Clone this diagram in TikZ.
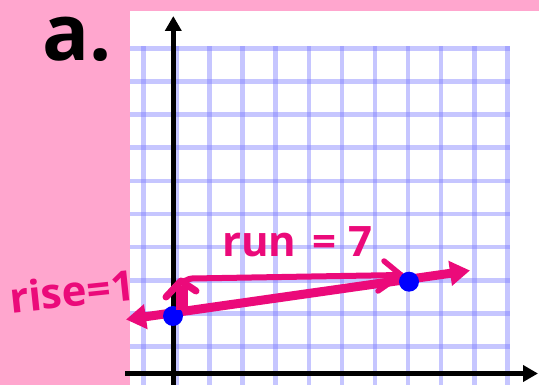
\documentclass[tikz,border=0pt]{standalone}
\usepackage{fontspec}
\setmainfont{Open Sans}
\usetikzlibrary{arrows.meta}
\definecolor{bgpink}{RGB}{255,166,206}
\definecolor{mag}{RGB}{235,10,122}
\definecolor{gridblue}{RGB}{120,120,255}
\begin{document}
\begin{tikzpicture}[x=1pt,y=-1pt,
  gridline/.style={gridblue, opacity=0.42, line width=4.5pt},
  axisline/.style={black, line width=5pt, -{Triangle[length=15pt,width=16pt]}},
  pinkarrow/.style={mag, line width=9pt, {Triangle[length=20pt,width=24pt]}-{Triangle[length=20pt,width=24pt]}},
  riseshaft/.style={mag, line width=12pt},
  chevron/.style={mag, line width=7pt, line cap=round, line join=round},
  runchev/.style={mag, line width=5.5pt, line cap=round, line join=round},
  runline/.style={mag, line width=6pt, line cap=round},
  dot/.style={circle, fill=blue, inner sep=0pt, minimum size=20pt},
  handtext/.style={mag, inner sep=0pt, font=\fontsize{42}{42}\selectfont\bfseries},
  bigtext/.style={black, inner sep=0pt, font=\fontsize{78}{78}\selectfont\bfseries}
]
\useasboundingbox (0,0) rectangle (539,385);
\fill[bgpink] (0,0) rectangle (539,385);
\fill[white] (130,11) rectangle (539,385);
% grid
\begin{scope}
\clip (130,11) rectangle (539,385);
\foreach \i in {0,...,11} \draw[gridline] ({143.3+33.1*\i},46.2) -- ({143.3+33.1*\i},390);
\foreach \j in {0,...,9} \draw[gridline] (120,{48.3+33.15*\j}) -- (509.6,{48.3+33.15*\j});
\end{scope}
% axes
\coordinate (ybot) at (173.3,390);
\coordinate (ytop) at (173.3,16);
\coordinate (xl) at (125,373.5);
\coordinate (xr) at (538,373.5);
\draw[axisline] (ybot) -- (ytop);
\draw[axisline] (xl) -- (xr);
% label a.
\node[bigtext, anchor=base] (lab) at (77,61) {a.};
% line through the two points
\coordinate (pl) at (126,319.5);
\coordinate (pr) at (470,270.5);
\draw[pinkarrow] (pl) -- (pr);
% run arrow
\coordinate (rt) at (181,281);
\coordinate (rs) at (192,278.5);
\coordinate (ru) at (401,275);
\coordinate (rw1) at (384,261);
\coordinate (rw2) at (378,291);
\draw[runline] (rt) to[out=-20,in=180] (rs) -- (ru);
\draw[runchev] (rw1) -- (ru) -- (rw2);
% points
\node[dot] (d1) at (173,316) {};
\node[dot] (d2) at (409,281.7) {};
% rise arrow
\coordinate (rb) at (181.5,310);
\coordinate (rtop) at (181.5,286);
\coordinate (cw1) at (166,297);
\coordinate (cw2) at (196,291);
\draw[riseshaft] (rb) -- (rtop);
\draw[chevron] (cw1) -- (rt) -- (cw2);
% labels
\node[handtext, rotate=6] (rise) at (72,291) {rise=1};
\node[handtext, anchor=base west] (run) at (222,257) {run\hspace{16pt}=\hspace{12pt}7};
\end{tikzpicture}
\end{document}
